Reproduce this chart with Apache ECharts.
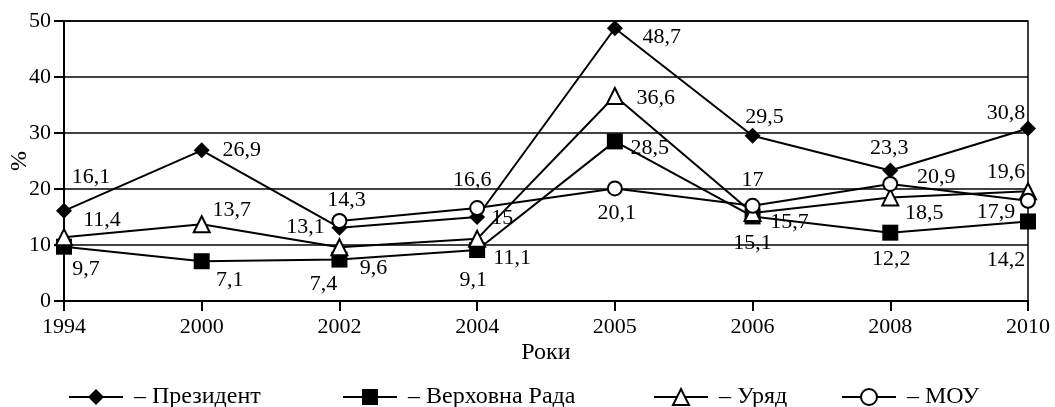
<!DOCTYPE html>
<html>
<head>
<meta charset="utf-8">
<script src="https://cdn.jsdelivr.net/npm/echarts@6/dist/echarts.min.js"></script>
<style>html,body{margin:0;padding:0;background:#fff;}#c{width:1055px;height:407px;}</style>
</head>
<body>
<div id="c"></div>
<script>
const categories = ['1994', '2000', '2002', '2004', '2005', '2006', '2008', '2010'];
const president = [16.1, 26.9, 13.1, 15, 48.7, 29.5, 23.3, 30.8];
const rada = [9.7, 7.1, 7.4, 9.1, 28.5, 15.1, 12.2, 14.2];
const uryad = [11.4, 13.7, 9.6, 11.1, 36.6, 15.7, 18.5, 19.6];
const mou = [null, null, 14.3, 16.6, 20.1, 17, 20.9, 17.9];
const seriesNames = ['Президент', 'Верховна Рада', 'Уряд', 'МОУ'];
const yTicks = [0, 10, 20, 30, 40, 50];

// label placement (pixel offsets from marker centre)
const labelOffsets = [
  [[27,-34],[40,0],[-34,0],[25,1],[47,9],[12,-19],[-1,-22],[-22,-15]],
  [[22,23],[28,19],[-16,25],[-4,30],[35,7],[0,27],[1,27],[-22,39]],
  [[38,-17],[30,-14],[34,21],[35,19],[41,2],[37,9],[34,16],[-22,-19]],
  [null,null,[7,-21],[-5,-28],[2,25],[0,-26],[46,-7],[-32,11]]
];
const FONT = "'Liberation Serif', 'Times New Roman', serif";
const NUM_SIZE = 22;
const TXT_SIZE = 24;
const fmt = v => String(v).replace('.', ',');

function buildData(vals, si) {
  return vals.map((v, i) => {
    if (v === null) return null;
    const off = labelOffsets[si][i] || [0, 0];
    return {
      value: v,
      label: {
        show: true, position: 'inside', offset: off,
        align: 'center', verticalAlign: 'middle',
        formatter: p => fmt(p.value), color: '#000',
        fontFamily: FONT, fontSize: NUM_SIZE
      }
    };
  });
}

const styles = [
  {symbol: 'diamond', symbolSize: 16, itemStyle: {color: '#000', borderColor: '#000', borderWidth: 0}},
  {symbol: 'rect', symbolSize: 16, itemStyle: {color: '#000', borderColor: '#000', borderWidth: 0}},
  {symbol: 'triangle', symbolSize: [16, 16], itemStyle: {color: '#fff', borderColor: '#000', borderWidth: 2}},
  {symbol: 'circle', symbolSize: 14, itemStyle: {color: '#fff', borderColor: '#000', borderWidth: 2}}
];
const allData = [president, rada, uryad, mou];

const series = allData.map((d, si) => Object.assign({
  name: seriesNames[si],
  type: 'line',
  data: buildData(d, si),
  showAllSymbol: true,
  lineStyle: {color: '#000', width: 2},
  emphasis: {disabled: true},
  animation: false,
  z: 2 + si
}, styles[si]));

const legendLefts = [63, 337, 648, 836];
const legends = seriesNames.map((n, i) => ({
  data: [n],
  left: legendLefts[i],
  top: 380,
  itemWidth: 54,
  itemHeight: 20,
  formatter: name => ' – ' + name,
  textStyle: {fontFamily: FONT, fontSize: TXT_SIZE, color: '#000'},
  selectedMode: false
}));

const chart = echarts.init(document.getElementById('c'), null, {renderer: 'canvas'});
chart.setOption({
  backgroundColor: '#fff',
  animation: false,
  textStyle: {fontFamily: FONT},
  grid: {left: 64, right: 27, top: 21, bottom: 106, outerBoundsMode: 'none', containLabel: false,
         show: true, borderColor: '#000', borderWidth: 1.5, backgroundColor: 'transparent'},
  legend: legends,
  xAxis: {
    type: 'category',
    data: categories,
    boundaryGap: false,
    name: 'Роки',
    nameLocation: 'middle',
    nameGap: 40,
    nameMoveOverlap: false,
    nameTextStyle: {fontFamily: FONT, fontSize: TXT_SIZE, color: '#000'},
    axisLine: {lineStyle: {color: '#000', width: 2}},
    axisTick: {show: true, length: 10, lineStyle: {color: '#000', width: 2}},
    axisLabel: {margin: 15, fontFamily: FONT, fontSize: NUM_SIZE, color: '#000'},
    splitLine: {show: false}
  },
  yAxis: {
    type: 'value',
    min: yTicks[0],
    max: yTicks[yTicks.length - 1],
    interval: 10,
    name: '%',
    nameLocation: 'middle',
    nameGap: 32,
    nameMoveOverlap: false,
    nameRotate: 90,
    nameTextStyle: {fontFamily: FONT, fontSize: TXT_SIZE, color: '#000'},
    axisLine: {show: true, lineStyle: {color: '#000', width: 2}},
    axisTick: {show: true, length: 10, lineStyle: {color: '#000', width: 2}},
    axisLabel: {margin: 13, fontFamily: FONT, fontSize: NUM_SIZE, color: '#000'},
    splitLine: {show: true, lineStyle: {color: '#000', width: 1.5}}
  },
  series: series
});
</script>
</body>
</html>
